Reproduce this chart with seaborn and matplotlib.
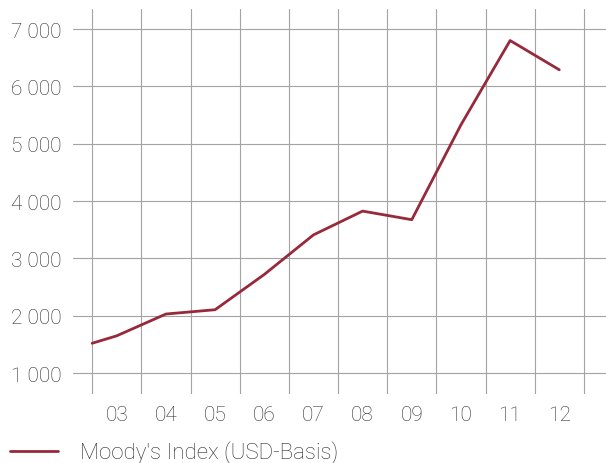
import numpy as np
import pandas as pd
import matplotlib
matplotlib.use('Agg')
import matplotlib.pyplot as plt
import seaborn as sns
from matplotlib.ticker import FuncFormatter, FixedLocator

# year positions (first point sits on the start of 2003) and index values
years = [2002.5, 2003, 2004, 2005, 2006, 2007, 2008, 2009, 2010, 2011, 2012]
values = [1520, 1650, 2030, 2105, 2720, 3410, 3825, 3675, 5330, 6800, 6290]
series_name = "Moody's Index (USD-Basis)"
tick_years = [2003, 2004, 2005, 2006, 2007, 2008, 2009, 2010, 2011, 2012]
y_ticks = [1000, 2000, 3000, 4000, 5000, 6000, 7000]

df = pd.DataFrame({'Year': years, 'Value': values, 'Series': series_name})

sns.set_style('white')
plt.rcParams['font.family'] = ['Roboto', 'DejaVu Sans']
text_col = '#2e2e2e'
grid_col = '#a3a3a3'
line_col = '#98293a'

fig = plt.figure(figsize=(6.06, 4.64), dpi=100)
ax = fig.add_axes([73 / 606, 1 - 395 / 464, 1 - 73 / 606, (395 - 10) / 464])

sns.lineplot(data=df, x='Year', y='Value', hue='Series', palette=[line_col],
             linewidth=2.0, ax=ax, legend=False)

ax.set_xlim(2002.11, 2012.95)
ax.set_ylim(635, 7350)
ax.yaxis.set_major_locator(FixedLocator(y_ticks))
ax.yaxis.set_major_formatter(FuncFormatter(lambda v, p: f"{int(v):,}".replace(',', ' ')))
ax.xaxis.set_major_locator(FixedLocator(tick_years))
ax.xaxis.set_minor_locator(FixedLocator([t - 0.5 for t in tick_years] + [tick_years[-1] + 0.5]))
ax.xaxis.set_major_formatter(FuncFormatter(lambda v, p: f"{int(round(v)) % 100:02d}"))

ax.grid(False)
ax.grid(True, axis='y', which='major', color=grid_col, linewidth=0.8)
ax.grid(True, axis='x', which='minor', color=grid_col, linewidth=0.8)
ax.set_axisbelow(True)
for s in ax.spines.values():
    s.set_visible(False)

ax.tick_params(axis='both', which='both', length=0)
ax.tick_params(axis='y', pad=8, labelsize=15, labelcolor=text_col)
ax.tick_params(axis='x', pad=8, labelsize=15, labelcolor=text_col)
for lab in ax.get_xticklabels() + ax.get_yticklabels():
    lab.set_fontweight('light')
ax.set_xlabel('')
ax.set_ylabel('')

handle = plt.Line2D([], [], color=line_col, linewidth=2.0)
leg = fig.legend([handle], [series_name], loc='center left',
                 bbox_to_anchor=(10 / 606, 1 - 453 / 464), frameon=False,
                 fontsize=16, handlelength=2.15, handletextpad=1.0,
                 borderpad=0, borderaxespad=0)
for t in leg.get_texts():
    t.set_color(text_col)
    t.set_fontweight('light')

fig.savefig('out.png', dpi=100)
